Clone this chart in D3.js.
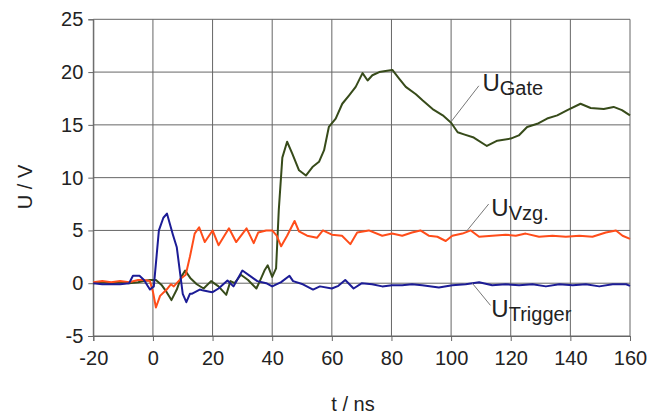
<!DOCTYPE html>
<html>
<head>
<meta charset="utf-8">
<script src="https://cdn.jsdelivr.net/npm/d3@7"></script>
<style>
  body { margin: 0; background: #fff; }
  text { font-family: Arial, "Liberation Sans", sans-serif; fill: #222; }
</style>
</head>
<body>
<svg id="chart" width="656" height="416"></svg>
<script>
// values (t in ns, U in V)
const gateT = [-20, -17, -14, -11, -8, -5, -3, -1, 1, 3, 4.5, 6.2, 8, 9.5, 10.8, 12.5, 14.7, 17, 19.5, 22, 24.6, 26, 27.4, 29.5, 31.9, 34.7, 36, 37.4, 38.5, 40, 41.3, 42.2, 43.4, 45, 46.7, 49, 51.3, 53.5, 55.7, 57.4, 59, 61.3, 63.5, 65.8, 68, 70.3, 72, 73.6, 75.9, 78, 80.3, 82.5, 84.8, 88.2, 90.5, 93.8, 97.2, 100, 102.2, 104.3, 107.6, 112, 115.5, 120, 122.7, 125.5, 128.9, 132.2, 135.6, 139, 143.4, 146.8, 151.2, 154.5, 157.3, 160];
const gateU = [0, 0.1, 0, 0.1, 0, 0.1, 0.2, 0.3, 0.3, -0.2, -0.8, -1.6, -0.6, 0.6, 1.2, 0.5, -0.1, -0.5, 0.2, -0.3, -1.1, 0.2, 0, 0.8, 0.3, -0.5, 0.3, 1.2, 1.7, 0.6, 1.4, 6.9, 11.9, 13.4, 12.3, 10.7, 10.2, 11.0, 11.5, 12.6, 14.8, 15.6, 17.0, 17.8, 18.6, 19.9, 19.2, 19.7, 20.0, 20.1, 20.2, 19.4, 18.6, 17.9, 17.3, 16.5, 15.9, 15.2, 14.3, 14.1, 13.8, 13.0, 13.5, 13.7, 14.0, 14.8, 15.1, 15.6, 15.9, 16.4, 17.0, 16.6, 16.5, 16.7, 16.4, 15.9];

const vzgT = [-20, -17, -14, -11, -8, -5, -3, -1, 0, 1, 2.4, 4.6, 6, 7, 9.6, 11, 12.4, 14, 15.5, 17.4, 20, 22, 25.5, 27.9, 31.4, 33.8, 35.3, 38, 40, 41.5, 43, 45, 47.5, 49, 51.7, 55, 57, 60, 63.4, 66.2, 68.5, 72.4, 76.9, 80.2, 83.6, 86.9, 89.7, 92.5, 95.4, 98.2, 100.4, 103.8, 106.6, 109.4, 113.8, 118.3, 121.7, 125, 129.5, 134, 138.5, 143, 147.4, 151.9, 155.3, 157.5, 160];
const vzgU = [0.1, 0.2, 0.1, 0.2, 0.1, 0.3, 0.3, 0.2, -0.8, -2.3, -1.2, -0.6, -0.1, -0.3, 0.5, 0.8, 2.5, 4.7, 5.3, 3.9, 5.0, 3.6, 5.2, 3.9, 5.2, 3.8, 4.8, 5.0, 5.0, 4.5, 3.5, 4.5, 5.9, 4.9, 4.5, 4.3, 5.0, 4.6, 4.5, 3.7, 4.8, 5.0, 4.5, 4.7, 4.5, 4.8, 5.0, 4.5, 4.4, 4.0, 4.5, 4.7, 5.0, 4.4, 4.5, 4.6, 4.5, 4.7, 4.4, 4.5, 4.4, 4.5, 4.4, 4.8, 5.0, 4.5, 4.2];

const trigT = [-20, -17, -14, -11, -8, -6.7, -4.5, -3, -1, 0.3, 1.2, 2, 3.5, 4.7, 6.7, 8, 9, 10, 11.2, 12.4, 13, 15.7, 17, 19, 20, 22, 25, 27, 30, 33, 35, 38, 40, 43, 45.8, 47, 50.3, 53.7, 56, 60, 62.2, 64.5, 67.3, 70.1, 73.5, 76.9, 80.2, 83.6, 86.9, 90.3, 95.9, 100.4, 104.9, 109.4, 113.8, 118.3, 122.8, 127.3, 131.8, 136.3, 140.8, 145.2, 149.7, 154.2, 158.7, 160];
const trigU = [0, -0.1, -0.1, -0.1, 0, 0.7, 0.7, 0.3, -0.6, -0.3, 2.5, 5.0, 6.2, 6.6, 4.6, 3.4, 1.2, -1.0, -1.8, -1.0, -1.0, -0.6, -0.7, -0.8, -0.85, -0.5, 0.25, -0.3, 1.2, 0.6, 0.2, 0, -0.3, 0.1, 0.7, 0.2, -0.1, -0.6, -0.3, -0.5, -0.25, 0.3, -0.5, 0, -0.1, -0.3, -0.2, -0.2, -0.1, -0.2, -0.4, -0.2, -0.1, 0.1, -0.2, -0.1, -0.2, -0.1, -0.3, -0.1, -0.2, -0.1, -0.3, -0.1, -0.1, -0.25];

const xTicks = [-20, 0, 20, 40, 60, 80, 100, 120, 140, 160];
const yTicks = [-5, 0, 5, 10, 15, 20, 25];

const svg = d3.select("#chart");
const margin = {left: 93.3, top: 19.3, right: 26, bottom: 80};
const width = 656 - margin.left - margin.right;
const height = 416 - margin.top - margin.bottom;

const x = d3.scaleLinear().domain([-20, 160]).range([0, width]);
const y = d3.scaleLinear().domain([-5, 25]).range([height, 0]);

const g = svg.append("g").attr("transform", `translate(${margin.left},${margin.top})`);

// grid
g.selectAll(".vgrid").data(xTicks).enter().append("line")
    .attr("x1", d => x(d)).attr("x2", d => x(d))
    .attr("y1", 0).attr("y2", height)
    .attr("stroke", "#666").attr("stroke-width", 1);
g.selectAll(".hgrid").data(yTicks).enter().append("line")
    .attr("x1", 0).attr("x2", width)
    .attr("y1", d => y(d)).attr("y2", d => y(d))
    .attr("stroke", "#666").attr("stroke-width", 1);

// axes (plain hyphen for negatives, like the original)
const fmt = d => String(d);
const xAxis = g.append("g").attr("transform", `translate(0,${height})`)
    .call(d3.axisBottom(x).tickValues(xTicks).tickFormat(fmt).tickSize(5).tickPadding(10));
const yAxis = g.append("g")
    .call(d3.axisLeft(y).tickValues(yTicks).tickFormat(fmt).tickSize(5).tickPadding(5));
[xAxis, yAxis].forEach(a => {
    a.select(".domain").attr("stroke", "#666");
    a.selectAll(".tick line").attr("stroke", "#666");
    a.selectAll(".tick text").style("font-size", "20px").attr("fill", "#222");
});

// curves
const line = d3.line().x(d => x(d[0])).y(d => y(d[1]));
const series = [
    {t: gateT, u: gateU, color: "#374b1a"},
    {t: vzgT, u: vzgU, color: "#ff4d1a"},
    {t: trigT, u: trigU, color: "#1c1c96"}
];
series.forEach(s => {
    g.append("path")
        .datum(s.t.map((t, i) => [t, s.u[i]]))
        .attr("d", line)
        .attr("fill", "none")
        .attr("stroke", s.color)
        .attr("stroke-width", 2)
        .attr("stroke-linejoin", "round");
});

// labels with leader lines
const labels = [
    {sub: "Gate", from: [100, 15.3], to: [109.3, 18.7], tx: 110.5, ty: 18.2},
    {sub: "Vzg.", from: [105.4, 5.0], to: [112.6, 7.5], tx: 113.5, ty: 6.4},
    {sub: "Trigger", from: [107.1, 0.0], to: [113.2, -2.1], tx: 113.5, ty: -3.2}
];
labels.forEach(l => {
    g.append("line")
        .attr("x1", x(l.from[0])).attr("y1", y(l.from[1]))
        .attr("x2", x(l.to[0])).attr("y2", y(l.to[1]))
        .attr("stroke", "#777").attr("stroke-width", 1);
    const txt = g.append("text").attr("x", x(l.tx)).attr("y", y(l.ty));
    txt.append("tspan").style("font-size", "24px").text("U");
    txt.append("tspan").style("font-size", "20px").attr("dy", 4).text(l.sub);
});

// axis titles
svg.append("text")
    .attr("x", 353).attr("y", 411)
    .attr("text-anchor", "middle")
    .style("font-size", "20px")
    .text("t / ns");
svg.append("text")
    .attr("transform", "translate(32,187) rotate(-90)")
    .attr("text-anchor", "middle")
    .style("font-size", "20px")
    .text("U / V");
</script>
</body>
</html>
